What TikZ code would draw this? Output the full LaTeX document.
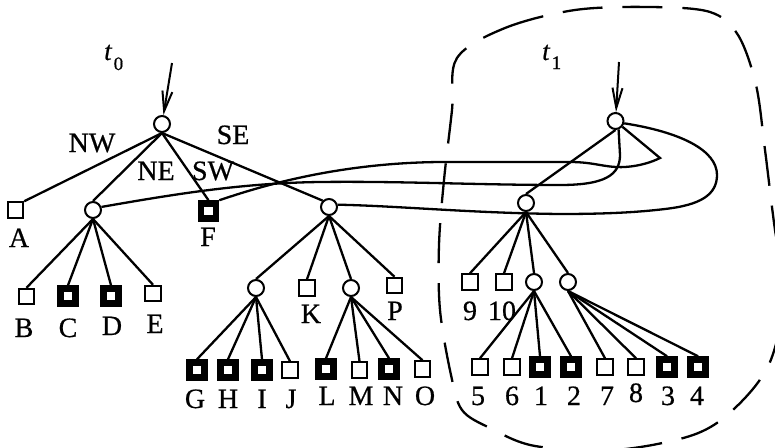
\documentclass[tikz,border=0pt]{standalone}
\usepackage{fontspec}
\setmainfont{Liberation Serif}[FakeBold=0.6]
\usetikzlibrary{arrows.meta}
\begin{document}
\begin{tikzpicture}[x=1pt,y=-1pt,
  circ/.style={circle,draw,fill=white,line width=2pt,minimum size=16pt,inner sep=0pt},
  wleaf/.style={rectangle,draw,fill=white,line width=2pt,minimum size=15.5pt,inner sep=0pt},
  bleaf/.style={rectangle,draw,fill=white,line width=6.5pt,minimum size=15pt,inner sep=0pt},
  lab/.style={anchor=base,inner sep=0pt,font=\fontsize{28}{30}\selectfont\addfontfeature{FakeBold=0.6}},
  tedge/.style={line width=2.3pt},
  link/.style={line width=2.3pt},
  ptr/.style={line width=2pt,-{Straight Barb[length=20pt,width=10pt,line width=2pt]}},
  bound/.style={line width=2.3pt,dash pattern=on 40pt off 20pt}
]
\useasboundingbox (0,0) rectangle (775,447);
\clip (0,0) rectangle (775,447);

% dashed boundary around t1
\draw[bound] plot[smooth cycle,tension=0.55] coordinates {
 (457,58) (505,28) (575,10) (650,7) (710,12) (738,35) (756,85) (765,150)
 (775,230) (785,290) (770,362) (735,408) (693,435) (615,450) (535,446)
 (490,428) (462,410) (451,375) (440,310) (439,245) (444,180) (452,110)};

% ---------- tree t0 ----------
\node[circ] (r0) at (162,124) {};
\node[wleaf] (A) at (15.5,210) {};
\node[circ] (c0) at (93,210) {};
\node[bleaf] (F) at (208.5,211) {};
\node[circ] (cSE) at (329,207) {};
\node[wleaf] (B) at (26.5,296.5) {};
\node[bleaf] (C) at (68,296) {};
\node[bleaf] (D) at (111,296) {};
\node[wleaf] (E) at (153,293.5) {};
\node[circ] (cG) at (256,288) {};
\node[wleaf] (K) at (307,288) {};
\node[circ] (cL) at (351,288) {};
\node[wleaf] (P) at (394.5,285.5) {};
\node[bleaf] (G) at (197,370) {};
\node[bleaf] (H) at (228,370) {};
\node[bleaf] (I) at (262,370) {};
\node[wleaf] (J) at (290,370) {};
\node[bleaf] (L) at (326,369) {};
\node[wleaf] (M) at (359.5,370) {};
\node[bleaf] (N) at (389,369) {};
\node[wleaf] (O) at (422.5,369) {};

\draw[tedge] (r0.south) -- (A.north east);
\draw[tedge] (r0.south) -- (c0.north);
\draw[tedge] (r0.south) -- (F.north);
\draw[tedge] (r0.south) -- (cSE.north west);
\foreach \c in {B,C,D,E} \draw[tedge] (c0.south) -- (\c.north);
\foreach \c in {cG,K,cL,P} \draw[tedge] (cSE.south) -- (\c.north);
\foreach \c in {G,H,I,J} \draw[tedge] (cG.south) -- (\c.north);
\foreach \c in {L,M,N,O} \draw[tedge] (cL.south) -- (\c.north);

% labels t0
\node[lab] (lNW) at (92,152) {NW};
\node[lab] (lNE) at (156,180) {NE};
\node[lab] (lSW) at (213,180) {SW};
\node[lab] (lSE) at (233,144) {SE};
\node[lab] (lA) at (19,247) {A};
\node[lab] (lF) at (208,246) {F};
\node[lab] (lB) at (24,337) {B};
\node[lab] (lC) at (68,337) {C};
\node[lab] (lD) at (112,335) {D};
\node[lab] (lE) at (155,333) {E};
\node[lab] (lK) at (311,323) {K};
\node[lab] (lP) at (395,320) {P};
\node[lab] (lG) at (195,408) {G};
\node[lab] (lH) at (228,408) {H};
\node[lab] (lI) at (262,408) {I};
\node[lab] (lJ) at (291,408) {J};
\node[lab] (lL) at (327,405) {L};
\node[lab] (lM) at (361,405) {M};
\node[lab] (lN) at (393,405) {N};
\node[lab] (lO) at (425,405) {O};

\node[anchor=base west,inner sep=0pt,font=\fontsize{27}{30}\selectfont] (t0) at (104,60)
  {\itshape t\hspace{2pt}\upshape\raisebox{-10pt}{\fontsize{19}{20}\selectfont 0}};
\coordinate (a0) at (172,63);
\draw[ptr] (a0) -- (r0);

% ---------- tree t1 ----------
\node[circ] (r1) at (615.5,121) {};
\node[circ] (c1) at (526,203) {};
\node[wleaf] (n9) at (470,282) {};
\node[wleaf] (n10) at (504,282) {};
\node[circ] (c11) at (534,282) {};
\node[circ] (c12) at (568,282) {};
\node[wleaf] (n5) at (480,367) {};
\node[wleaf] (n6) at (512,367) {};
\node[bleaf] (n1) at (540,367) {};
\node[bleaf] (n2) at (571,367) {};
\node[wleaf] (n7) at (605,367) {};
\node[wleaf] (n8) at (636,367) {};
\node[bleaf] (n3) at (667,367) {};
\node[bleaf] (n4) at (698,367) {};

\draw[tedge] (r1.south) -- (c1.north);
\foreach \c in {n9,n10,c11,c12} \draw[tedge] (c1.south) -- (\c.north);
\foreach \c in {n5,n6,n1,n2} \draw[tedge] (c11.south) -- (\c.north);
\foreach \c in {n7,n8,n3,n4} \draw[tedge] (c12.south) -- (\c.north);

\node[lab] (l9) at (470,320) {9};
\node[lab] (l10) at (502,320) {10};
\node[lab] (l5) at (478,405) {5};
\node[lab] (l6) at (512,405) {6};
\node[lab] (l1) at (541,405) {1};
\node[lab] (l2) at (574,405) {2};
\node[lab] (l7) at (607,405) {7};
\node[lab] (l8) at (636,402) {8};
\node[lab] (l3) at (668,405) {3};
\node[lab] (l4) at (697,405) {4};

\node[anchor=base west,inner sep=0pt,font=\fontsize{27}{30}\selectfont] (t1) at (542,60)
  {\itshape t\hspace{2pt}\upshape\raisebox{-9pt}{\fontsize{19}{20}\selectfont 1}};
\coordinate (a1) at (619,62);
\draw[ptr] (a1) -- (r1);

% ---------- shared links ----------
\draw[link] (F.north east) .. controls (250,190) and (330,163) .. (440,162)
  -- (570,162) .. controls (595,162) and (605,168) .. (625,167)
  .. controls (640,166) and (652,162) .. (660,158) -- (r1.-40);
\draw[link] (c0.20) .. controls (170,195) and (240,183) .. (320,182)
  .. controls (400,181) and (480,185) .. (560,185)
  .. controls (605,185) and (620,175) .. (620,155) -- (r1.-70);
\draw[link] (cSE.15) .. controls (400,206) and (470,213) .. (560,214)
  .. controls (610,214) and (640,212) .. (665,209)
  .. controls (700,205) and (717,195) .. (717,175)
  .. controls (717,150) and (680,132) .. (r1.-15);
\end{tikzpicture}
\end{document}
